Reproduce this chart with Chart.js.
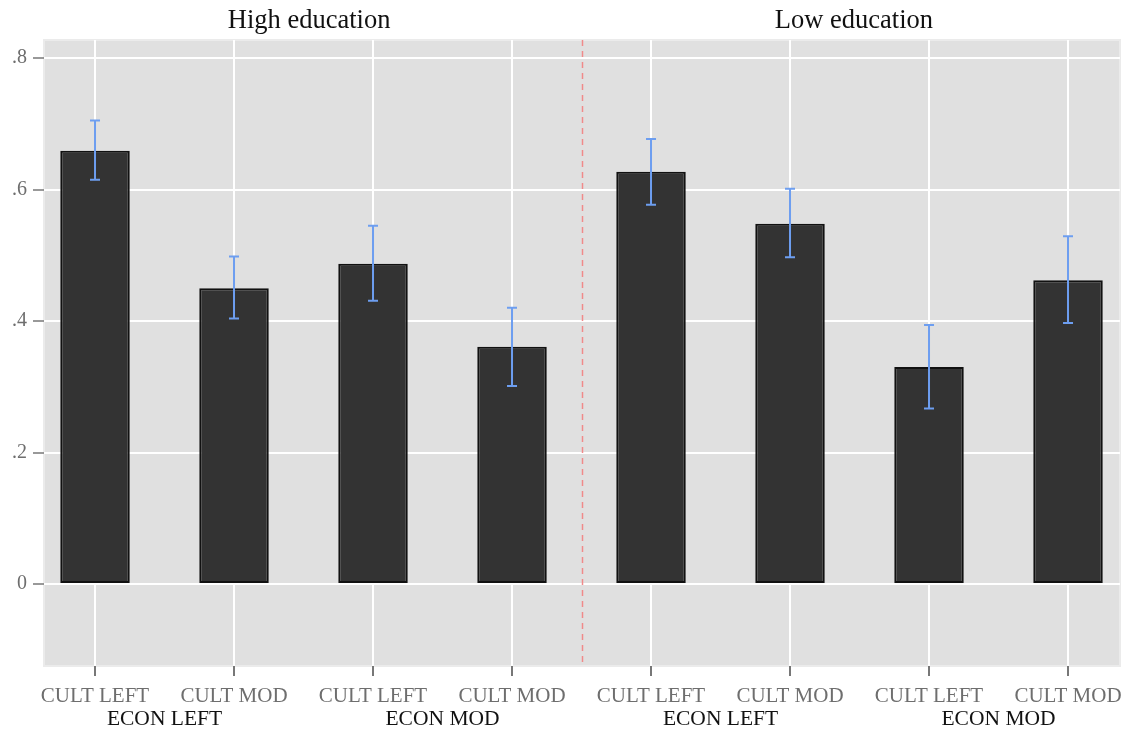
<!DOCTYPE html>
<html>
<head>
<meta charset="utf-8">
<script src="https://cdn.jsdelivr.net/npm/chart.js@4/dist/chart.umd.min.js"></script>
<style>
  html, body { margin: 0; padding: 0; background: #ffffff; }
  #wrap { width: 1131px; height: 733px; position: relative; }
</style>
</head>
<body>
<div id="wrap"><canvas id="chart"></canvas></div>
<script>
// Bar positions along the x axis (one per group)
const positions = [1, 2, 3, 4, 5, 6, 7, 8];
// Cultural position labels under each bar
const cultLabels = ['CULT LEFT', 'CULT MOD', 'CULT LEFT', 'CULT MOD',
                    'CULT LEFT', 'CULT MOD', 'CULT LEFT', 'CULT MOD'];
// Economic position labels, each spanning a pair of bars
const econLabels = ['ECON LEFT', 'ECON MOD', 'ECON LEFT', 'ECON MOD'];
const econCenters = [1.5, 3.5, 5.5, 7.5];
// Panel headings
const panelTitles = ['High education', 'Low education'];
const panelCenters = [2.54, 6.46];
// Estimated shares and their confidence intervals
const shares = [0.659, 0.450, 0.487, 0.361, 0.627, 0.548, 0.330, 0.462];
const ciLow  = [0.615, 0.404, 0.431, 0.301, 0.577, 0.497, 0.267, 0.397];
const ciHigh = [0.705, 0.498, 0.545, 0.420, 0.677, 0.601, 0.394, 0.529];
// Y axis ticks and their labels
const yTicks = [0, 0.2, 0.4, 0.6, 0.8];
const yTickLabels = ['0', '.2', '.4', '.6', '.8'];
// Divider between the two panels
const panelDivider = 4.5;

const SERIF = '"Liberation Serif", "DejaVu Serif", serif';

const plotDecor = {
  id: 'plotDecor',
  beforeDraw(chart) {
    const { ctx, chartArea: a } = chart;
    ctx.save();
    ctx.fillStyle = '#e0e0e0';
    ctx.fillRect(a.left, a.top, a.right - a.left, a.bottom - a.top);
    ctx.strokeStyle = '#ebebeb';
    ctx.lineWidth = 2;
    ctx.strokeRect(a.left, a.top, a.right - a.left, a.bottom - a.top);
    ctx.restore();
  },
  afterDatasetsDraw(chart) {
    const { ctx, chartArea: a, scales: { x, y } } = chart;
    ctx.save();
    // confidence intervals
    ctx.strokeStyle = '#6d9ef0';
    ctx.lineWidth = 2;
    const cap = 5;
    positions.forEach((p, i) => {
      const px = x.getPixelForValue(p);
      const yl = y.getPixelForValue(ciLow[i]);
      const yh = y.getPixelForValue(ciHigh[i]);
      ctx.beginPath();
      ctx.moveTo(px, yl); ctx.lineTo(px, yh);
      ctx.moveTo(px - cap, yh); ctx.lineTo(px + cap, yh);
      ctx.moveTo(px - cap, yl); ctx.lineTo(px + cap, yl);
      ctx.stroke();
    });
    // panel divider
    const dx = Math.round(x.getPixelForValue(panelDivider)) + 0.5;
    ctx.strokeStyle = '#f08a8a';
    ctx.lineWidth = 1.5;
    ctx.setLineDash([6, 5]);
    ctx.beginPath();
    ctx.moveTo(dx, a.top); ctx.lineTo(dx, a.bottom);
    ctx.stroke();
    ctx.setLineDash([]);
    ctx.restore();
  },
  afterDraw(chart) {
    const { ctx, scales: { x } } = chart;
    ctx.save();
    ctx.textAlign = 'center';
    ctx.textBaseline = 'middle';
    ctx.fillStyle = '#111111';
    ctx.font = '26.5px ' + SERIF;
    panelTitles.forEach((t, i) => ctx.fillText(t, x.getPixelForValue(panelCenters[i]), 21));
    ctx.font = '21.5px ' + SERIF;
    econLabels.forEach((t, i) => ctx.fillText(t, x.getPixelForValue(econCenters[i]), 719));
    ctx.restore();
  }
};

new Chart(document.getElementById('chart'), {
  type: 'bar',
  data: {
    datasets: [{
      data: positions.map((p, i) => ({ x: p, y: shares[i] })),
      backgroundColor: '#333333',
      borderColor: '#111111',
      borderWidth: 2,
      borderSkipped: false,
      barPercentage: 0.5,
      categoryPercentage: 1
    }]
  },
  options: {
    responsive: true,
    maintainAspectRatio: false,
    animation: false,
    layout: { padding: { left: 0, right: 11, top: 40, bottom: 0 } },
    plugins: { legend: { display: false }, tooltip: { enabled: false } },
    scales: {
      x: {
        type: 'linear',
        offset: false,
        min: 0.633,
        max: 8.374,
        afterBuildTicks(s) { s.ticks = positions.map(v => ({ value: v })); },
        afterFit(s) { s.height = 67; },
        ticks: {
          callback: (v) => cultLabels[positions.indexOf(v)] ?? '',
          color: '#6e6e6e',
          font: { family: SERIF, size: 21 },
          padding: 8,
          maxRotation: 0,
          autoSkip: false
        },
        grid: { offset: false, color: '#ffffff', lineWidth: 2, tickColor: '#777777', tickLength: 10, tickWidth: 2 },
        border: { display: false }
      },
      y: {
        min: -0.1247,
        max: 0.8274,
        afterBuildTicks(s) { s.ticks = yTicks.map(v => ({ value: v })); },
        afterFit(s) { s.width = 44; },
        ticks: {
          callback: (v) => yTickLabels[yTicks.indexOf(v)] ?? '',
          color: '#6e6e6e',
          font: { family: SERIF, size: 20 },
          padding: 6
        },
        grid: { color: '#ffffff', lineWidth: 2, tickColor: '#777777', tickLength: 11, tickWidth: 1.5 },
        border: { display: false }
      }
    }
  },
  plugins: [plotDecor]
});
</script>
</body>
</html>
